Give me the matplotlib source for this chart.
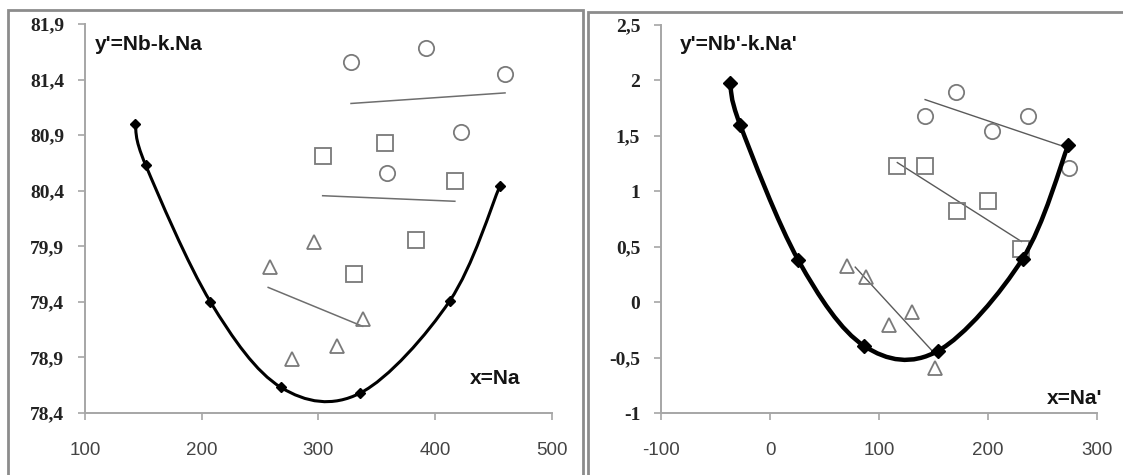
import matplotlib
matplotlib.use("Agg")
import matplotlib.pyplot as plt
from matplotlib.path import Path
from matplotlib.patches import PathPatch, Rectangle
from matplotlib.ticker import FuncFormatter, FixedLocator
import numpy as np

# ---------------- data: left panel (x = Na) ----------------
L_curve_x = [143, 152, 207.5, 268, 336, 412.7, 455.5]
L_curve_y = [81.00, 80.63, 79.40, 78.63, 78.58, 79.41, 80.44]
L_circ_x = [328, 392, 460, 422.6, 358.7]
L_circ_y = [81.56, 81.68, 81.45, 80.93, 80.56]
L_circ_trend_x = [328, 460]
L_circ_trend_y = [81.185, 81.28]
L_sq_x = [303.7, 357.5, 417, 383.6, 330.4]
L_sq_y = [80.71, 80.83, 80.49, 79.96, 79.65]
L_sq_trend_x = [303.7, 417]
L_sq_trend_y = [80.355, 80.305]
L_tri_x = [258.2, 296, 338, 316.3, 277.6]
L_tri_y = [79.715, 79.94, 79.25, 79.00, 78.89]
L_tri_trend_x = [257, 338]
L_tri_trend_y = [79.53, 79.18]
L_xticks = [100, 200, 300, 400, 500]
L_yticks = [78.4, 78.9, 79.4, 79.9, 80.4, 80.9, 81.4, 81.9]
L_ylabel_text = "y'=Nb-k.Na"
L_xlabel_text = "x=Na"

# ---------------- data: right panel (x = Na') ----------------
R_curve_x = [-36.6, -27.4, 26.1, 86.5, 154.1, 231.7, 273.6]
R_curve_y = [1.98, 1.60, 0.376, -0.396, -0.44, 0.391, 1.417]
R_circ_x = [142.3, 171, 204, 237, 273.9]
R_circ_y = [1.68, 1.90, 1.543, 1.68, 1.214]
R_circ_trend_x = [142.3, 272.9]
R_circ_trend_y = [1.827, 1.393]
R_sq_x = [116.8, 141.9, 171.6, 199.7, 230.7]
R_sq_y = [1.229, 1.229, 0.825, 0.915, 0.475]
R_sq_trend_x = [116.8, 230.7]
R_sq_trend_y = [1.259, 0.547]
R_tri_x = [70.6, 88.1, 108.9, 130, 151.5]
R_tri_y = [0.322, 0.227, -0.207, -0.087, -0.59]
R_tri_trend_x = [78.2, 150.8]
R_tri_trend_y = [0.316, -0.461]
R_xticks = [-100, 0, 100, 200, 300]
R_yticks = [-1, -0.5, 0, 0.5, 1, 1.5, 2, 2.5]
R_ylabel_text = "y'=Nb'-k.Na'"
R_xlabel_text = "x=Na'"

W, H = 1123, 475
fig = plt.figure(figsize=(W / 100, H / 100), dpi=100)
fig.patch.set_facecolor("white")

AX_GRAY = "#a6a6a6"
MK_GRAY = "#7a7a7a"


def smooth_path(xs, ys):
    """Excel-style smoothed line (Catmull-Rom converted to cubic Bezier)."""
    pts = np.column_stack([xs, ys]).astype(float)
    n = len(pts)
    verts = [pts[0]]
    codes = [Path.MOVETO]
    for i in range(n - 1):
        p0 = pts[i - 1] if i > 0 else pts[i]
        p1 = pts[i]
        p2 = pts[i + 1]
        p3 = pts[i + 2] if i + 2 < n else pts[i + 1]
        c1 = p1 + (p2 - p0) / 6.0
        c2 = p2 - (p3 - p1) / 6.0
        verts += [c1, c2, p2]
        codes += [Path.CURVE4] * 3
    return Path(verts, codes)


def fmt_comma(v, pos):
    s = ("%.1f" % v) if abs(v - round(v)) > 1e-9 else "%d" % round(v)
    return s.replace(".", ",")


def fmt_left(v, pos):
    return ("%.1f" % v).replace(".", ",")


def style_axes(ax, xticks, yticks, yfmt):
    for s in ("top", "right"):
        ax.spines[s].set_visible(False)
    for s in ("left", "bottom"):
        ax.spines[s].set_color(AX_GRAY)
        ax.spines[s].set_linewidth(1.4)
    ax.xaxis.set_major_locator(FixedLocator(xticks))
    ax.yaxis.set_major_locator(FixedLocator(yticks))
    ax.yaxis.set_major_formatter(FuncFormatter(yfmt))
    ax.xaxis.set_major_formatter(FuncFormatter(lambda v, p: "%d" % v))
    ax.tick_params(axis="both", direction="out", length=5, width=1.2, color=AX_GRAY)
    ax.tick_params(axis="x", pad=16, labelsize=13.5, labelcolor="#444444")
    ax.tick_params(axis="y", pad=10, labelsize=14, labelcolor="#222222")
    for lab in ax.get_xticklabels():
        lab.set_family("Liberation Sans")
    for lab in ax.get_yticklabels():
        lab.set_family("Liberation Serif")
        lab.set_fontweight("bold")
    ax.set_facecolor("none")


def draw_panel(ax, cx, cy, ox, oy, otx, oty, sx, sy, stx, sty, tx, ty, ttx, tty,
               curve_lw, dia_ms, trend_color, trend_lw):
    # trend lines
    ax.plot(otx, oty, color=trend_color, lw=trend_lw, zorder=2)
    ax.plot(stx, sty, color=trend_color, lw=trend_lw, zorder=2)
    ax.plot(ttx, tty, color=trend_color, lw=trend_lw, zorder=2)
    # open markers
    ax.plot(ox, oy, ls="none", marker="o", ms=11, mfc="none", mec=MK_GRAY, mew=1.3, zorder=3)
    ax.plot(sx, sy, ls="none", marker="s", ms=11, mfc="none", mec=MK_GRAY, mew=1.3, zorder=3)
    ax.plot(tx, ty, ls="none", marker="^", ms=10, mfc="none", mec=MK_GRAY, mew=1.3, zorder=3)
    # smoothed curve
    patch = PathPatch(smooth_path(cx, cy), fill=False, ec="black", lw=curve_lw,
                      transform=ax.transData, zorder=4, capstyle="round", joinstyle="round")
    ax.add_patch(patch)
    ax.plot(cx, cy, ls="none", marker="D", ms=dia_ms, color="black", zorder=5)


# ---------- left panel ----------
axL = fig.add_axes([85 / W, 1 - 413 / H, 466.7 / W, (413 - 24) / H])
axL.set_xlim(100, 500)
axL.set_ylim(78.4, 81.9)
draw_panel(axL, L_curve_x, L_curve_y, L_circ_x, L_circ_y, L_circ_trend_x, L_circ_trend_y,
           L_sq_x, L_sq_y, L_sq_trend_x, L_sq_trend_y, L_tri_x, L_tri_y,
           L_tri_trend_x, L_tri_trend_y, curve_lw=2.2, dia_ms=5.5,
           trend_color="#6e6e6e", trend_lw=1.1)
style_axes(axL, L_xticks, L_yticks, fmt_left)

# ---------- right panel ----------
axR = fig.add_axes([661 / W, 1 - 413 / H, 436 / W, (413 - 25) / H])
axR.set_xlim(-100, 300)
axR.set_ylim(-1, 2.5)
draw_panel(axR, R_curve_x, R_curve_y, R_circ_x, R_circ_y, R_circ_trend_x, R_circ_trend_y,
           R_sq_x, R_sq_y, R_sq_trend_x, R_sq_trend_y, R_tri_x, R_tri_y,
           R_tri_trend_x, R_tri_trend_y, curve_lw=3.2, dia_ms=7.5,
           trend_color="#5a5a5a", trend_lw=1.0)
style_axes(axR, R_xticks, R_yticks, fmt_comma)

# annotation texts placed in figure pixel coordinates (y from top)
fig.text(95 / W, 1 - 45 / H, L_ylabel_text, fontsize=15, fontweight="bold",
         family="Liberation Sans", color="#141414", va="center", ha="left")
fig.text(470 / W, 1 - 379 / H, L_xlabel_text, fontsize=15, fontweight="bold",
         family="Liberation Sans", color="#141414", va="center", ha="left")
fig.text(680 / W, 1 - 45 / H, R_ylabel_text, fontsize=15, fontweight="bold",
         family="Liberation Sans", color="#141414", va="center", ha="left")
fig.text(1047 / W, 1 - 398 / H, R_xlabel_text, fontsize=15, fontweight="bold",
         family="Liberation Sans", color="#141414", va="center", ha="left")

# chart-area borders
fig.add_artist(Rectangle((8 / W, -0.2), (583 - 8) / W, 1.2 - 10 / H, transform=fig.transFigure,
                         fill=False, ec="#8c8c8c", lw=2.0))
fig.add_artist(Rectangle((588 / W, -0.2), 0.6, 1.2 - 12 / H, transform=fig.transFigure,
                         fill=False, ec="#8c8c8c", lw=2.0))

fig.savefig("out.png", dpi=100, facecolor="white")
